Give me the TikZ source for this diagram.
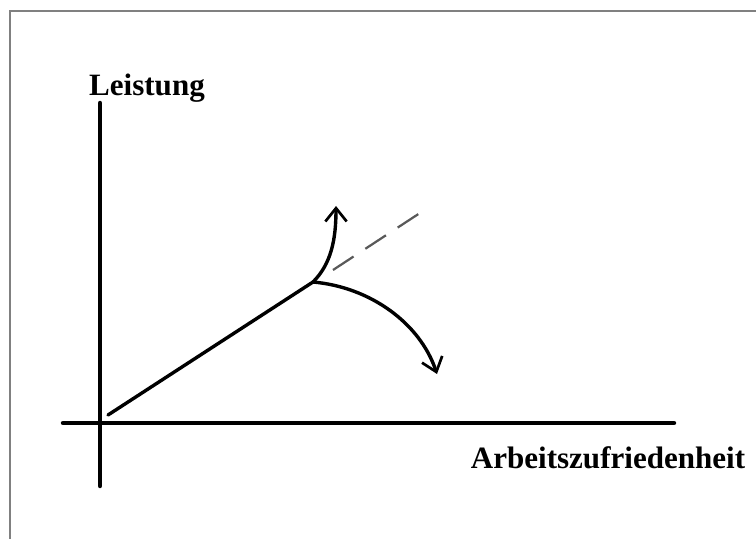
\documentclass[tikz,border=0pt]{standalone}
\usepackage{fontspec}
\setmainfont{Liberation Serif}
\usetikzlibrary{arrows.meta}

\begin{document}
\begin{tikzpicture}[
  x=0.03cm, y=-0.03cm,
  axis/.style={line width=3.8pt, line cap=round},
  curve/.style={line width=2.9pt, line cap=round},
  curvearrow/.style={curve, -{Straight Barb[length=4mm, width=6.4mm, line width=2.3pt]}},
  trend/.style={line width=1.9pt, gray!70!black, dash pattern=on 21pt off 12pt},
  axlabel/.style={font=\fontsize{26.5}{30}\selectfont\bfseries, inner sep=0pt},
]
\useasboundingbox (0,0) rectangle (756,539);

% === frame ===
\draw[gray, line width=1.2pt] (10,545) -- (10,11) -- (762,11);

% === axes ===
\coordinate (ytop) at (100,103);
\coordinate (ybot) at (100,486);
\coordinate (xleft) at (63,423);
\coordinate (xright) at (674,423);
\draw[axis] (ybot) -- (ytop);
\draw[axis] (xleft) -- (xright);

\node[axlabel] (ylab) at (147,88) {Leistung};
\node[axlabel] (xlab) at (608,458) {Arbeitszufriedenheit};

% === rising line and branches ===
\coordinate (start) at (108,415);
\coordinate (knick) at (313,282);
\coordinate (trendend) at (423,211);
\coordinate (uptip) at (336,206);
\coordinate (downtip) at (437,374);

\draw[curve] (start) -- (knick);
\draw[trend] (333,270) -- (trendend);
\draw[curvearrow] (knick) .. controls (331,264) and (336,240) .. (uptip);
\draw[curvearrow] (knick) .. controls (370,287) and (420,323) .. (downtip);

\end{tikzpicture}
\end{document}
